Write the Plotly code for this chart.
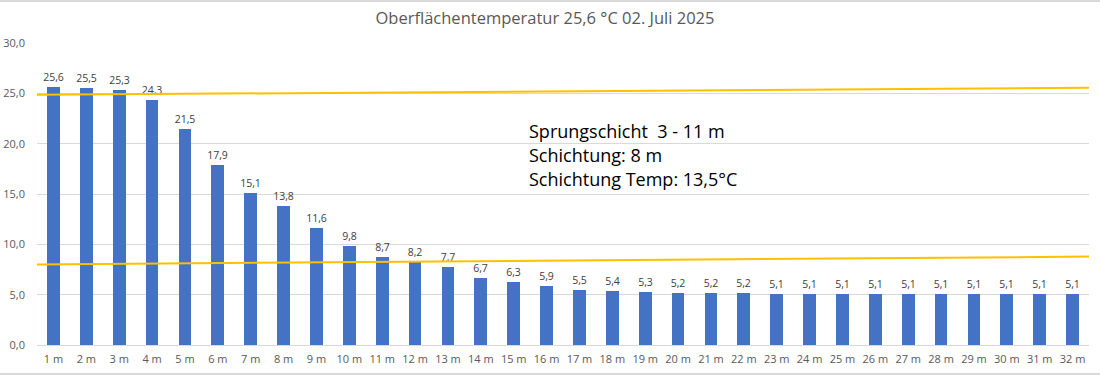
import plotly.graph_objects as go

depths = [f"{i} m" for i in range(1, 33)]
temps = [25.6, 25.5, 25.3, 24.3, 21.5, 17.9, 15.1, 13.8, 11.6, 9.8, 8.7, 8.2, 7.7,
         6.7, 6.3, 5.9, 5.5, 5.4, 5.3, 5.2, 5.2, 5.2, 5.1, 5.1, 5.1, 5.1, 5.1, 5.1,
         5.1, 5.1, 5.1, 5.1]
upper_line_x = [0.5, 32.5]
upper_line_y = [24.85, 25.55]
lower_line_x = [0.5, 32.5]
lower_line_y = [8.0, 8.78]
y_ticks = [0, 5, 10, 15, 20, 25, 30]
info_lines = ["Sprungschicht  3 - 11 m", "Schichtung: 8 m", "Schichtung Temp: 13,5°C"]
info_y = [21.25, 18.87, 16.48]
title_text = "Oberflächentemperatur 25,6 °C 02. Juli 2025"

xs = list(range(1, len(depths) + 1))

W, H = 1100, 375
ML, MR, MT, MB = 37, 11, 43, 30
PW, PH = W - ML - MR, H - MT - MB

fig = go.Figure()
fig.add_trace(go.Bar(
    x=xs, y=temps, width=0.39, marker=dict(color="#4472C4", line=dict(width=0)),
    texttemplate="%{y:.1f}", textposition="outside", cliponaxis=False,
    constraintext="none",
    textfont=dict(size=10.5, color="#404040", family="Open Sans"),
    showlegend=False,
))
fig.add_trace(go.Scatter(x=upper_line_x, y=upper_line_y, mode="lines",
                         line=dict(color="#FFC000", width=2), showlegend=False))
fig.add_trace(go.Scatter(x=lower_line_x, y=lower_line_y, mode="lines",
                         line=dict(color="#FFC000", width=2), showlegend=False))

for t, yy in zip(info_lines, info_y):
    fig.add_annotation(x=(527 - ML) / PW, xref="paper", y=yy, yref="y", text=t,
                       showarrow=False, xanchor="left", yanchor="middle",
                       font=dict(size=18, color="#000000", family="Open Sans"))

# thin light-gray frame lines at the very top and bottom of the image
for py in (1, 374):
    yp = 1 - (py - MT) / PH
    fig.add_shape(type="line", xref="paper", yref="paper",
                  x0=-ML / PW, x1=1 + MR / PW, y0=yp, y1=yp,
                  line=dict(color="#D9D9D9", width=2))

fig.update_layout(
    width=W, height=H,
    margin=dict(l=ML, r=MR, t=MT, b=MB, autoexpand=False),
    paper_bgcolor="white", plot_bgcolor="white",
    separators=",.",
    title=dict(text=title_text, x=545 / W, xanchor="center", y=1 - 18 / H,
               yanchor="middle", font=dict(size=16.5, color="#595959", family="Open Sans")),
    xaxis=dict(range=[0.5, 32.5], tickvals=xs, ticktext=depths, showgrid=False,
               zeroline=False, showline=True, linecolor="#D9D9D9", ticks="",
               automargin=False, ticklabelstandoff=4,
               tickfont=dict(size=11, color="#595959", family="Open Sans")),
    yaxis=dict(range=[0, 30], tickvals=y_ticks, tickformat=".1f", showgrid=True,
               gridcolor="#D9D9D9", zeroline=False, ticks="", automargin=False,
               ticklabelstandoff=11,
               tickfont=dict(size=11, color="#595959", family="Open Sans")),
    bargap=0,
)
fig.write_html("out.html", config={"displayModeBar": False},
               post_script="document.body.style.margin='0';")
